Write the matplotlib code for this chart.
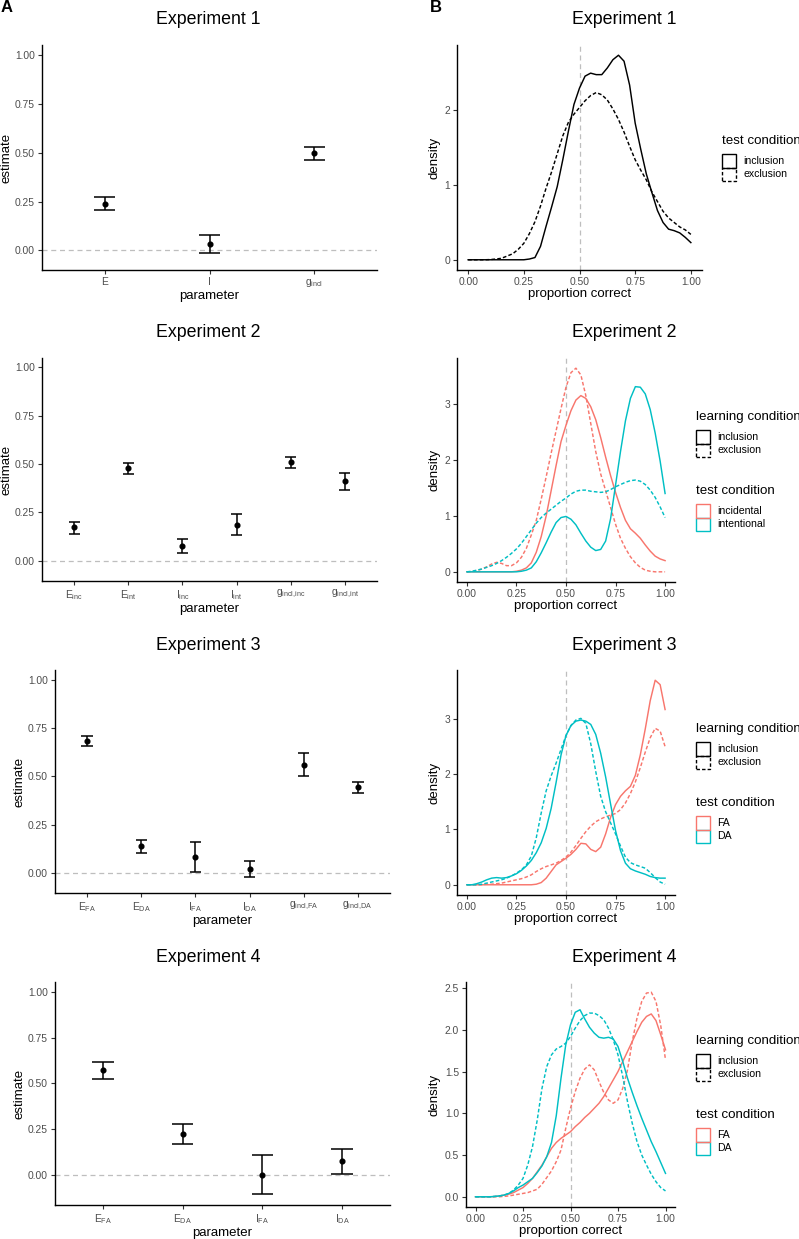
import numpy as np
import matplotlib.pyplot as plt
from matplotlib.patches import Rectangle

plt.rcParams['font.family'] = ['Liberation Sans', 'DejaVu Sans']
plt.rcParams['mathtext.fontset'] = 'custom'
plt.rcParams['mathtext.rm'] = 'Liberation Sans'
plt.rcParams['mathtext.it'] = 'Liberation Sans'
plt.rcParams['mathtext.default'] = 'regular'

RED = '#F8766D'
TEAL = '#00BFC4'
GREY = '#BEBEBE'

# ---- panel A: parameter estimates (point + interval) ----
exp1_params = ['E', 'I', '$g_{incl}$']
exp1_est = [0.240, 0.033, 0.497]
exp1_lo = [0.205, -0.012, 0.466]
exp1_hi = [0.274, 0.077, 0.529]

exp2_params = ['$E_{inc}$', '$E_{int}$', '$I_{inc}$', '$I_{int}$',
               '$g_{incl{,}inc}$', '$g_{incl{,}int}$']
exp2_est = [0.173, 0.478, 0.078, 0.187, 0.509, 0.411]
exp2_lo = [0.140, 0.449, 0.040, 0.133, 0.478, 0.366]
exp2_hi = [0.202, 0.504, 0.114, 0.242, 0.539, 0.456]

exp3_params = ['$E_{FA}$', '$E_{DA}$', '$I_{FA}$', '$I_{DA}$',
               '$g_{incl{,}FA}$', '$g_{incl{,}DA}$']
exp3_est = [0.682, 0.138, 0.081, 0.022, 0.560, 0.442]
exp3_lo = [0.656, 0.104, 0.003, -0.019, 0.503, 0.413]
exp3_hi = [0.706, 0.171, 0.161, 0.060, 0.618, 0.470]

exp4_params = ['$E_{FA}$', '$E_{DA}$', '$I_{FA}$', '$I_{DA}$']
exp4_est = [0.571, 0.223, 0.000, 0.075]
exp4_lo = [0.526, 0.168, -0.106, 0.005]
exp4_hi = [0.615, 0.276, 0.106, 0.142]

# ---- panel B: density of proportion correct, read every 0.025 ----
prop = np.linspace(0, 1, 41)

exp1_incl = [0, 0, 0, 0, 0, 0, 0, 0, 0, 0, 0, 0.01, 0.03, 0.18, 0.45, 0.71,
             0.98, 1.34, 1.72, 2.08, 2.30, 2.46, 2.50, 2.48, 2.48, 2.57, 2.68,
             2.74, 2.66, 2.34, 1.83, 1.48, 1.15, 0.90, 0.66, 0.50, 0.41, 0.39,
             0.36, 0.30, 0.23]
exp1_excl = [0, 0, 0, 0, 0.003, 0.01, 0.02, 0.05, 0.08, 0.14, 0.22, 0.35, 0.51,
             0.72, 0.96, 1.18, 1.42, 1.66, 1.84, 1.95, 2.04, 2.13, 2.20, 2.24,
             2.21, 2.14, 2.02, 1.88, 1.71, 1.52, 1.34, 1.20, 1.07, 0.91, 0.78,
             0.65, 0.56, 0.50, 0.44, 0.40, 0.34]

exp2_inc_incl = [0, 0, 0, 0, 0, 0, 0, 0, 0, 0, 0.01, 0.03, 0.07, 0.16, 0.35,
                 0.63, 1.00, 1.45, 1.90, 2.33, 2.62, 2.88, 3.07, 3.15, 3.10,
                 2.95, 2.72, 2.40, 2.05, 1.72, 1.42, 1.15, 0.92, 0.77, 0.69,
                 0.60, 0.48, 0.37, 0.28, 0.23, 0.20]
exp2_inc_excl = [0, 0.005, 0.02, 0.05, 0.09, 0.14, 0.17, 0.15, 0.11, 0.11,
                 0.16, 0.26, 0.42, 0.66, 0.92, 1.30, 1.70, 2.12, 2.52, 2.92,
                 3.30, 3.56, 3.64, 3.52, 3.15, 2.65, 2.15, 1.75, 1.45, 1.15,
                 0.85, 0.60, 0.42, 0.27, 0.16, 0.08, 0.03, 0.01, 0, 0, 0]
exp2_int_incl = [0, 0, 0, 0, 0, 0, 0, 0, 0, 0, 0, 0.01, 0.03, 0.07, 0.18, 0.34,
                 0.52, 0.71, 0.88, 0.97, 0.99, 0.94, 0.84, 0.69, 0.55, 0.44,
                 0.38, 0.40, 0.55, 0.95, 1.55, 2.15, 2.70, 3.10, 3.31, 3.30,
                 3.18, 2.90, 2.48, 1.98, 1.40]
exp2_int_excl = [0, 0.01, 0.03, 0.05, 0.08, 0.11, 0.15, 0.20, 0.26, 0.33, 0.41,
                 0.51, 0.63, 0.75, 0.87, 0.97, 1.05, 1.12, 1.19, 1.26, 1.32,
                 1.39, 1.44, 1.46, 1.46, 1.44, 1.43, 1.42, 1.43, 1.47, 1.52,
                 1.56, 1.60, 1.63, 1.64, 1.62, 1.56, 1.46, 1.33, 1.16, 0.97]

exp3_fa_incl = [0, 0, 0, 0, 0, 0, 0, 0, 0, 0, 0, 0, 0, 0, 0.01, 0.04, 0.12,
                0.24, 0.36, 0.42, 0.48, 0.55, 0.64, 0.75, 0.74, 0.64, 0.60,
                0.68, 0.92, 1.22, 1.45, 1.60, 1.70, 1.78, 1.98, 2.35, 2.82,
                3.33, 3.70, 3.62, 3.17]
exp3_fa_excl = [0, 0, 0, 0, 0.01, 0.01, 0.02, 0.03, 0.05, 0.07, 0.09, 0.11,
                0.14, 0.18, 0.24, 0.29, 0.33, 0.36, 0.39, 0.44, 0.50, 0.59,
                0.71, 0.84, 0.96, 1.06, 1.14, 1.19, 1.23, 1.26, 1.29, 1.36,
                1.48, 1.65, 1.86, 2.12, 2.40, 2.66, 2.83, 2.78, 2.50]
exp3_da_incl = [0, 0, 0.02, 0.05, 0.09, 0.12, 0.13, 0.12, 0.13, 0.16, 0.20,
                0.26, 0.34, 0.44, 0.58, 0.76, 1.02, 1.38, 1.85, 2.35, 2.70,
                2.88, 2.96, 2.98, 2.96, 2.90, 2.72, 2.38, 1.95, 1.46, 0.98,
                0.62, 0.39, 0.29, 0.25, 0.22, 0.19, 0.15, 0.13, 0.12, 0.12]
exp3_da_excl = [0, 0, 0, 0.01, 0.03, 0.05, 0.07, 0.09, 0.12, 0.16, 0.21, 0.27,
                0.36, 0.52, 0.85, 1.30, 1.70, 1.97, 2.20, 2.45, 2.70, 2.88,
                2.98, 3.01, 2.92, 2.55, 2.05, 1.60, 1.32, 1.12, 0.92, 0.70,
                0.50, 0.40, 0.36, 0.33, 0.30, 0.22, 0.13, 0.05, 0.01]

exp4_fa_incl = [0, 0, 0, 0, 0.003, 0.01, 0.02, 0.03, 0.05, 0.08, 0.11, 0.16,
                0.22, 0.30, 0.38, 0.48, 0.58, 0.65, 0.70, 0.74, 0.78, 0.84,
                0.89, 0.95, 1.00, 1.06, 1.12, 1.20, 1.30, 1.40, 1.50, 1.62,
                1.74, 1.86, 1.98, 2.09, 2.16, 2.19, 2.11, 1.94, 1.76]
exp4_fa_excl = [0, 0, 0, 0, 0, 0, 0.005, 0.01, 0.02, 0.03, 0.04, 0.05, 0.07,
                0.09, 0.15, 0.23, 0.31, 0.42, 0.56, 0.82, 1.06, 1.26, 1.42,
                1.53, 1.58, 1.52, 1.38, 1.25, 1.16, 1.12, 1.16, 1.30, 1.52,
                1.86, 2.14, 2.34, 2.44, 2.45, 2.34, 2.05, 1.64]
exp4_da_incl = [0, 0, 0, 0, 0.003, 0.01, 0.02, 0.04, 0.07, 0.11, 0.14, 0.18,
                0.22, 0.29, 0.37, 0.48, 0.65, 0.97, 1.42, 1.82, 2.06, 2.21,
                2.24, 2.13, 2.03, 1.96, 1.91, 1.90, 1.91, 1.89, 1.80, 1.62,
                1.42, 1.25, 1.09, 0.94, 0.80, 0.66, 0.54, 0.41, 0.28]
exp4_da_excl = [0, 0, 0, 0, 0.005, 0.01, 0.02, 0.04, 0.08, 0.14, 0.22, 0.38,
                0.60, 0.92, 1.30, 1.56, 1.70, 1.77, 1.80, 1.84, 1.92, 2.02,
                2.11, 2.17, 2.20, 2.20, 2.17, 2.12, 2.02, 1.88, 1.70, 1.44,
                1.14, 0.88, 0.66, 0.50, 0.38, 0.27, 0.18, 0.11, 0.07]

W, H = 799, 1239
fig = plt.figure(figsize=(W / 100, H / 100), dpi=100)


def px_rect(x0, y0, x1, y1):
    return [x0 / W, 1 - y1 / H, (x1 - x0) / W, (y1 - y0) / H]


def style(ax):
    for s in ['top', 'right']:
        ax.spines[s].set_visible(False)
    for s in ['left', 'bottom']:
        ax.spines[s].set_linewidth(1.0)
        ax.spines[s].set_color('black')
    ax.tick_params(length=3, width=0.8, color='#333333', labelcolor='#4D4D4D',
                   labelsize=7.4, pad=2)


def est_panel(box, title, params, est, lo, hi, ylim, capw):
    ax = fig.add_axes(px_rect(*box))
    pos = np.arange(1, len(params) + 1)
    ax.axhline(0, color=GREY, ls=(0, (4, 3)), lw=0.9, zorder=0)
    ax.vlines(pos, lo, hi, color='black', lw=1.1)
    ax.hlines(lo, pos - capw / 2, pos + capw / 2, color='black', lw=1.1)
    ax.hlines(hi, pos - capw / 2, pos + capw / 2, color='black', lw=1.1)
    ax.plot(pos, est, 'o', color='black', ms=3.4)
    ax.set_xlim(0.4, len(params) + 0.6)
    ax.set_ylim(*ylim)
    ax.set_yticks([0, 0.25, 0.5, 0.75, 1.0])
    ax.set_yticklabels(['0.00', '0.25', '0.50', '0.75', '1.00'])
    ax.set_xticks(pos)
    ax.set_xticklabels(params)
    style(ax)
    ax.set_xlabel('parameter', fontsize=9.5, labelpad=1)
    ax.set_ylabel('estimate', fontsize=9.5, labelpad=2)
    fig.text(208 / W, 1 - (box[1] - 25) / H, title, fontsize=12.8,
             ha='center', va='center')
    return ax


def dens_panel(box, title, curves, yticks, ylabels):
    ax = fig.add_axes(px_rect(*box))
    ymax = 0
    for y, col, ls in curves:
        ax.plot(prop, y, color=col, ls=ls, lw=1.05)
        ymax = max(ymax, max(y))
    ax.axvline(0.5, color=GREY, ls=(0, (4, 3)), lw=0.9, zorder=0)
    ax.set_xlim(-0.05, 1.05)
    ax.set_ylim(-0.05 * ymax, 1.05 * ymax)
    ax.set_xticks([0, 0.25, 0.5, 0.75, 1.0])
    ax.set_xticklabels(['0.00', '0.25', '0.50', '0.75', '1.00'])
    ax.set_yticks(yticks)
    ax.set_yticklabels(ylabels)
    style(ax)
    ax.set_xlabel('proportion correct', fontsize=9.5, labelpad=1)
    ax.set_ylabel('density', fontsize=9.5, labelpad=3)
    fig.text(624 / W, 1 - (box[1] - 25) / H, title, fontsize=12.8,
             ha='center', va='center')
    return ax


DASH = (0, (2.5, 1.5))


def add_legend(x, ytitle, title, labels, colors, styles):
    # ggplot-style key: stacked outline boxes touching each other
    fig.text(x / W, 1 - ytitle / H, title, fontsize=9.6, ha='left', va='center')
    top = ytitle + 13
    size = 13.5
    order = list(range(len(labels)))[::-1]
    for i in order:
        y0 = top + i * size
        fig.add_artist(Rectangle((x / W, 1 - (y0 + size) / H), 13.5 / W, size / H,
                                 transform=fig.transFigure, facecolor='none',
                                 edgecolor=colors[i], lw=1.0, ls=styles[i]))
        fig.text((x + 21) / W, 1 - (y0 + size / 2) / H, labels[i], fontsize=7.6,
                 ha='left', va='center')


# left column
est_panel((42, 45, 377, 270), 'Experiment 1', exp1_params, exp1_est,
          exp1_lo, exp1_hi, (-0.10, 1.053), 0.2)
est_panel((42, 358, 377, 581), 'Experiment 2', exp2_params, exp2_est,
          exp2_lo, exp2_hi, (-0.104, 1.048), 0.2)
est_panel((55, 670, 390, 893), 'Experiment 3', exp3_params, exp3_est,
          exp3_lo, exp3_hi, (-0.104, 1.05), 0.22)
est_panel((55, 982, 390, 1205), 'Experiment 4', exp4_params, exp4_est,
          exp4_lo, exp4_hi, (-0.166, 1.055), 0.27)

# right column
dens_panel((457, 45, 702, 270), 'Experiment 1',
           [(exp1_incl, 'black', '-'), (exp1_excl, 'black', DASH)],
           [0, 1, 2], ['0', '1', '2'])
add_legend(722, 141, 'test condition', ['inclusion', 'exclusion'],
           ['black', 'black'], ['-', DASH])

dens_panel((457, 358, 675, 582), 'Experiment 2',
           [(exp2_inc_incl, RED, '-'), (exp2_inc_excl, RED, DASH),
            (exp2_int_incl, TEAL, '-'), (exp2_int_excl, TEAL, DASH)],
           [0, 1, 2, 3], ['0', '1', '2', '3'])
add_legend(696, 417, 'learning condition', ['inclusion', 'exclusion'],
           ['black', 'black'], ['-', DASH])
add_legend(696, 491, 'test condition', ['incidental', 'intentional'],
           [RED, TEAL], ['-', '-'])

dens_panel((457, 670, 675, 895), 'Experiment 3',
           [(exp3_fa_incl, RED, '-'), (exp3_fa_excl, RED, DASH),
            (exp3_da_incl, TEAL, '-'), (exp3_da_excl, TEAL, DASH)],
           [0, 1, 2, 3], ['0', '1', '2', '3'])
add_legend(696, 729, 'learning condition', ['inclusion', 'exclusion'],
           ['black', 'black'], ['-', DASH])
add_legend(696, 803, 'test condition', ['FA', 'DA'], [RED, TEAL], ['-', '-'])

dens_panel((466, 982, 675, 1207), 'Experiment 4',
           [(exp4_fa_incl, RED, '-'), (exp4_fa_excl, RED, DASH),
            (exp4_da_incl, TEAL, '-'), (exp4_da_excl, TEAL, DASH)],
           [0, 0.5, 1.0, 1.5, 2.0, 2.5], ['0.0', '0.5', '1.0', '1.5', '2.0', '2.5'])
add_legend(696, 1041, 'learning condition', ['inclusion', 'exclusion'],
           ['black', 'black'], ['-', DASH])
add_legend(696, 1115, 'test condition', ['FA', 'DA'], [RED, TEAL], ['-', '-'])

fig.text(1 / W, 1 - 0.5 / H, 'A', fontsize=12, fontweight='bold', ha='left', va='top')
fig.text(430 / W, 1 - 0.5 / H, 'B', fontsize=12, fontweight='bold', ha='left', va='top')

fig.savefig('out.png', dpi=100)
